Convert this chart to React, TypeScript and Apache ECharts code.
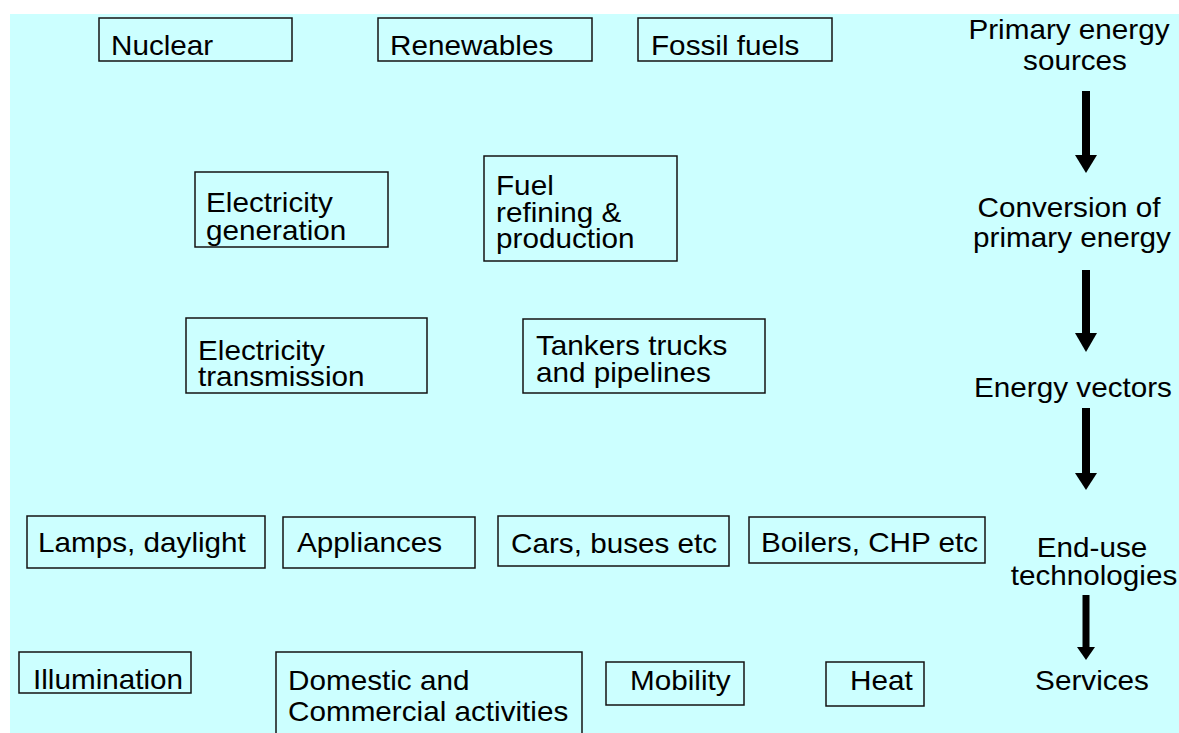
import React, { useEffect, useRef } from "react";
import * as echarts from "echarts";

// ---- Diagram content (text) ----
const sourceLabels: string[][] = [["Nuclear"], ["Renewables"], ["Fossil fuels"]];
const conversionLabels: string[][] = [["Electricity", "generation"], ["Fuel", "refining &", "production"]];
const vectorLabels: string[][] = [["Electricity", "transmission"], ["Tankers trucks", "and pipelines"]];
const technologyLabels: string[][] = [["Lamps, daylight"], ["Appliances"], ["Cars, buses etc"], ["Boilers, CHP etc"]];
const serviceLabels: string[][] = [["Illumination"], ["Domestic and", "Commercial activities"], ["Mobility"], ["Heat"]];
const stageLabels: string[][] = [
  ["Primary energy", "sources"],
  ["Conversion of", "primary energy"],
  ["Energy vectors"],
  ["End-use", "technologies"],
  ["Services"],
];

// ---- Layout (positions in px) ----
// box: [x, y, w, h], textX, first baseline, line step
const sourceLayout = [
  { box: [99, 18, 193, 43], tx: 111, by: 55, step: 28 },
  { box: [378, 18, 214, 43], tx: 390, by: 55, step: 28 },
  { box: [638, 18, 194, 43], tx: 651, by: 55, step: 28 },
];
const conversionLayout = [
  { box: [195, 172, 193, 75], tx: 206, by: 212, step: 28 },
  { box: [484, 156, 193, 105], tx: 496, by: 195, step: 26.5 },
];
const vectorLayout = [
  { box: [186, 318, 241, 75], tx: 198, by: 360, step: 26 },
  { box: [523, 319, 242, 74], tx: 536, by: 355, step: 27 },
];
const technologyLayout = [
  { box: [27, 516, 238, 52], tx: 38, by: 552, step: 28 },
  { box: [283, 517, 192, 51], tx: 297, by: 552, step: 28 },
  { box: [498, 516, 231, 50], tx: 511, by: 553, step: 28 },
  { box: [749, 517, 236, 46], tx: 761, by: 552, step: 28 },
];
const serviceLayout = [
  { box: [19, 652, 172, 41], tx: 33, by: 689, step: 28 },
  { box: [276, 652, 306, 100], tx: 288, by: 690, step: 31 },
  { box: [606, 662, 138, 43], tx: 630, by: 690, step: 28 },
  { box: [826, 662, 98, 44], tx: 850, by: 690, step: 28 },
];
const stageLayout = [
  { cx: [1069, 1075], by: [39, 70] },
  { cx: [1069, 1072], by: [217, 247] },
  { cx: [1073], by: [397] },
  { cx: [1092, 1094], by: [557, 585] },
  { cx: [1092], by: [690] },
];
// arrows: [centerX, shaftTop, headTop, tip, shaftW, headW]
const arrowLayout = [
  [1086, 91, 155, 173, 8, 22],
  [1086, 270, 333, 352, 8, 22],
  [1086, 408, 473, 490, 8, 22],
  [1086, 595, 647, 660, 7, 18],
];

const FONT_SIZE = 28;
const SCALE_X = 1.06;
const FONT = "'Liberation Sans', Arial, Helvetica, sans-serif";
const MID_OFFSET = 0.3465 * FONT_SIZE;
const BG = "#CCFFFF";
const STROKE = "#141414";

function textLine(text: string, x: number, baseline: number, align: string) {
  return {
    type: "text",
    x,
    y: baseline - MID_OFFSET,
    scaleX: SCALE_X,
    silent: true,
    style: {
      text,
      x: 0,
      y: 0,
      fill: "#000",
      font: `${FONT_SIZE}px ${FONT}`,
      fontSize: FONT_SIZE,
      fontFamily: FONT,
      align,
      verticalAlign: "middle",
    },
  };
}

function boxes(labels: string[][], layout: any[]) {
  const out: any[] = [];
  labels.forEach((lines, i) => {
    const l = layout[i];
    out.push({
      type: "rect",
      silent: true,
      shape: { x: l.box[0], y: l.box[1], width: l.box[2], height: l.box[3] },
      style: { fill: "none", stroke: STROKE, lineWidth: 1.5 },
    });
    lines.forEach((t, j) => out.push(textLine(t, l.tx, l.by + j * l.step, "left")));
  });
  return out;
}

export default function App() {
  const ref = useRef<HTMLDivElement>(null);
  useEffect(() => {
    document.body.style.margin = "0";
    const chart = echarts.init(ref.current!, undefined, { renderer: "svg" });
    const elements: any[] = [];
    elements.push({
      type: "rect",
      silent: true,
      shape: { x: 10, y: 14, width: 1169, height: 719 },
      style: { fill: BG },
    });
    elements.push(...boxes(sourceLabels, sourceLayout));
    elements.push(...boxes(conversionLabels, conversionLayout));
    elements.push(...boxes(vectorLabels, vectorLayout));
    elements.push(...boxes(technologyLabels, technologyLayout));
    elements.push(...boxes(serviceLabels, serviceLayout));
    stageLabels.forEach((lines, i) => {
      const l = stageLayout[i];
      lines.forEach((t, j) => elements.push(textLine(t, l.cx[j], l.by[j], "center")));
    });
    arrowLayout.forEach(([cx, top, headTop, tip, sw, hw]) => {
      elements.push({
        type: "rect",
        silent: true,
        shape: { x: cx - sw / 2, y: top, width: sw, height: headTop - top + 1 },
        style: { fill: "#000" },
      });
      elements.push({
        type: "polygon",
        silent: true,
        shape: {
          points: [
            [cx - hw / 2, headTop],
            [cx + hw / 2, headTop],
            [cx, tip],
          ],
        },
        style: { fill: "#000" },
      });
    });
    chart.setOption({
      animation: false,
      backgroundColor: "#ffffff",
      graphic: { elements },
    });
    return () => chart.dispose();
  }, []);
  return (
    <div
      ref={ref}
      style={{ position: "fixed", left: 0, top: 0, width: 1179, height: 733 }}
    />
  );
}
